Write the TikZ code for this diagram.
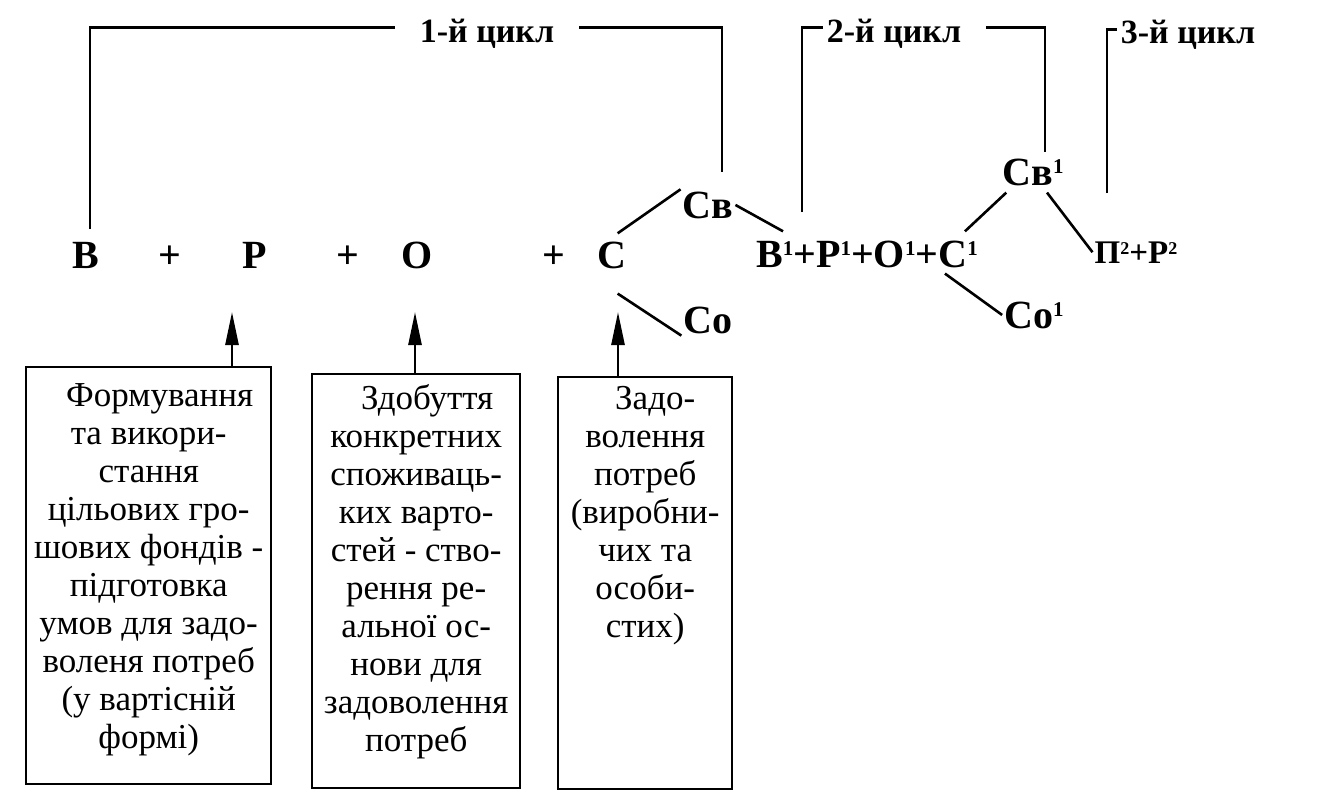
\documentclass[tikz,border=0pt]{standalone}
\usepackage{fontspec}
\setmainfont{Liberation Serif}
\usepackage{tikz}
\usetikzlibrary{positioning, arrows.meta, calc}

% raised small index: raise, size, text
\newcommand{\supidx}[3]{\raisebox{#1}{\fontsize{#2}{#2}\selectfont #3}}

\begin{document}
\begin{tikzpicture}[x=1pt, y=-1pt,
  big/.style={font=\fontsize{40}{44}\selectfont\bfseries, inner sep=2pt, anchor=base},
  mid/.style={font=\fontsize{33}{36}\selectfont\bfseries, inner sep=2pt, anchor=base},
  cyc/.style={font=\fontsize{34}{38}\selectfont\bfseries, inner xsep=4pt, anchor=base},
  box/.style={draw, line width=2.4pt, inner sep=0pt, anchor=north west,
    font=\fontsize{35}{38}\selectfont},
  ln/.style={line width=2.6pt},
  arr/.style={ln, -{Triangle[length=33pt, width=13pt]}}]
  \useasboundingbox (0,0) rectangle (1330,806);

  % main row
  \node[big] (V) at (86,268) {В};
  \node[big] (pl1) at (170,268) {+};
  \node[big] (R) at (255,268) {Р};
  \node[big] (pl2) at (348,268) {+};
  \node[big] (O) at (417,268) {О};
  \node[big] (pl3) at (554,268) {+};
  \node[big] (C) at (612,268) {С};
  \node[big] (Sv) at (708,218) {Св};
  \node[big] (So) at (708,333) {Со};
  \node[big] (row2) at (867,267) {В\supidx{12pt}{21}{1}+Р\supidx{12pt}{21}{1}+О\supidx{12pt}{21}{1}+С\supidx{12pt}{21}{1}};
  \node[big] (Sv1) at (1033,185) {Св\supidx{12pt}{21}{1}};
  \node[big] (So1) at (1034,328) {Со\supidx{12pt}{21}{1}};
  \node[mid] (PR2) at (1136,263) {П\supidx{9pt}{18}{2}+Р\supidx{9pt}{18}{2}};

  % cycles
  \node[cyc, inner xsep=25pt] (cyc1) at (487,42) {1-й цикл};
  \node[cyc] (cyc2) at (894,42) {2-й цикл};
  \node[cyc] (cyc3) at (1188,43) {3-й цикл};
  \coordinate (k1l) at (90,229);
  \coordinate (k1r) at (722,172);
  \coordinate (k2l) at (802,212);
  \coordinate (k2r) at (1045,152);
  \coordinate (k3l) at (1107,193);
  \draw[ln] (k1l) |- ([yshift=6pt]cyc1.west);
  \draw[ln] ([yshift=6pt]cyc1.east) -| (k1r);
  \draw[ln] (k2l) |- ([yshift=6pt]cyc2.west);
  \draw[ln] ([yshift=6pt]cyc2.east) ++(21,0) -| (k2r);
  \draw[ln] (k3l) |- ([yshift=5pt]cyc3.west);

  % branches
  \draw[ln] ([shift={(-11,-6)}]C.north east) -- (Sv.north west);
  \draw[ln] ([shift={(-11,23)}]C.south east) -- (So.south west);
  \draw[ln] (Sv.east) -- ([shift={(29,-7)}]row2.north west);
  \draw[ln] ([shift={(-15,-7)}]row2.north east) -- ([shift={(6,5)}]Sv1.south west);
  \draw[ln] ([shift={(-35,4)}]row2.south east) -- (So1.west);
  \draw[ln] ([shift={(14,5)}]Sv1.south) -- (PR2.west);

  % boxes
  \node[box] (b1) at (25,366) {\parbox[c][417pt][t]{245pt}{\centering
    \rule{0pt}{39pt}\hspace*{22pt}Формування\\
    та викори-\\ стання\\ цільових гро-\\ шових фондів -\\ підготовка\\
    умов для задо-\\ воленя потреб\\ (у вартісній\\ формі)}};
  \node[box] (b2) at (311,373) {\parbox[c][414pt][t]{208pt}{\centering
    \rule{0pt}{35pt}\hspace*{22pt}Здобуття\\
    конкретних\\ споживаць-\\ ких варто-\\ стей - ство-\\ рення ре-\\
    альної ос-\\ нови для\\ задоволення\\ потреб}};
  \node[box] (b3) at (557,376) {\parbox[c][412pt][t]{174pt}{\centering
    \rule{0pt}{32pt}\hspace*{20pt}Задо-\\
    волення\\ потреб\\ (виробни-\\ чих та\\ особи-\\ стих)}};

  % arrows
  \coordinate (a1) at (232,312);
  \coordinate (a2) at (415,312);
  \coordinate (a3) at (618,312);
  \draw[arr] (b1.north -| a1) -- (a1);
  \draw[arr] (b2.north -| a2) -- (a2);
  \draw[arr] (b3.north -| a3) -- (a3);
\end{tikzpicture}
\end{document}
